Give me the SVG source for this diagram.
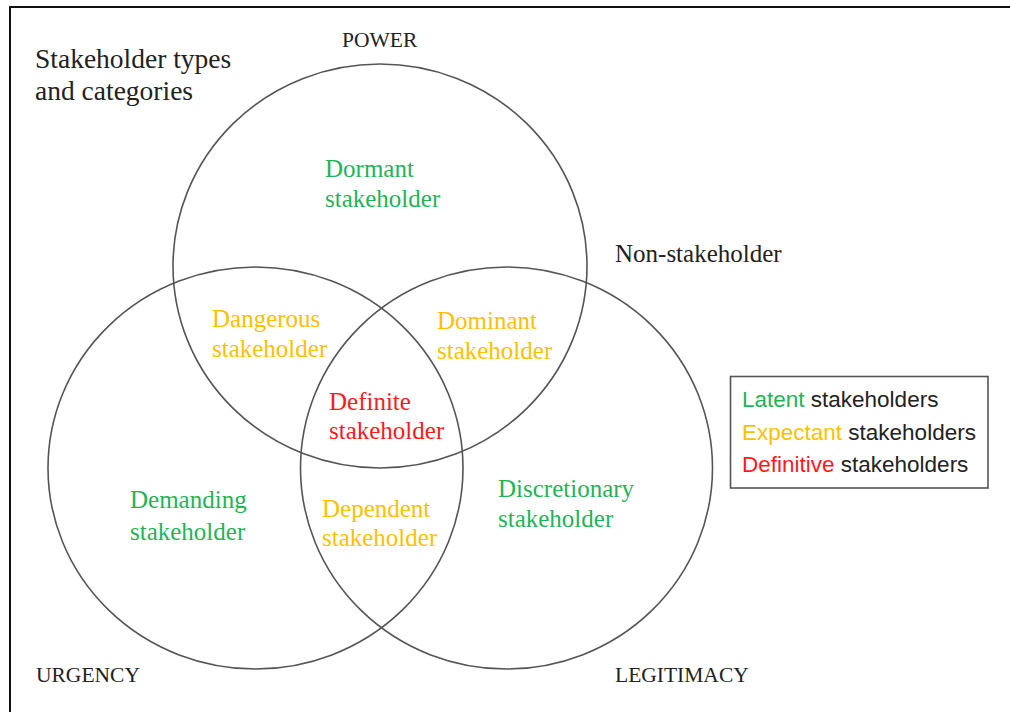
<svg xmlns="http://www.w3.org/2000/svg" width="1010" height="712" viewBox="0 0 1010 712">
<style>
.ring{fill:none;stroke:#555;stroke-width:1.6}
.serif{font-family:"Liberation Serif","Times New Roman",serif;fill:#222}
.lbl{font-family:"Liberation Serif","Times New Roman",serif;font-size:25px}
.g{fill:#1fb456}
.y{fill:#ffc000}
.r{fill:#ff1a1a}
.leg{font-family:"Liberation Sans",Arial,sans-serif;font-size:22.5px;fill:#222}
</style>
<rect width="1010" height="712" fill="#fff"/>
<g id="frame">
<line x1="9" y1="7" x2="1010" y2="7" stroke="#111" stroke-width="2"/>
<line x1="10" y1="6" x2="10" y2="712" stroke="#111" stroke-width="2"/>
</g>
<g id="title">
<text class="serif" x="35" y="68" font-size="27.5">Stakeholder types</text>
<text class="serif" x="35" y="100" font-size="27.5">and categories</text>
</g>
<g id="power">
<ellipse class="ring" cx="380" cy="266" rx="207" ry="202"/>
<text class="serif" x="342" y="47" font-size="21.5">POWER</text>
</g>
<g id="urgency">
<ellipse class="ring" cx="255.5" cy="468" rx="207.5" ry="201"/>
<text class="serif" x="36" y="682" font-size="21.5">URGENCY</text>
</g>
<g id="legitimacy">
<ellipse class="ring" cx="506.5" cy="468" rx="206" ry="201"/>
<text class="serif" x="615" y="682" font-size="21.5">LEGITIMACY</text>
</g>
<g id="non-stakeholder">
<text class="serif" x="615" y="262" font-size="25">Non-stakeholder</text>
</g>
<g id="dormant"><text class="lbl g" x="325" y="177">Dormant</text><text class="lbl g" x="325" y="207">stakeholder</text></g>
<g id="dangerous"><text class="lbl y" x="212" y="327">Dangerous</text><text class="lbl y" x="212" y="357">stakeholder</text></g>
<g id="dominant"><text class="lbl y" x="437" y="329">Dominant</text><text class="lbl y" x="437" y="359">stakeholder</text></g>
<g id="definite"><text class="lbl r" x="329" y="410">Definite</text><text class="lbl r" x="329" y="439">stakeholder</text></g>
<g id="demanding"><text class="lbl g" x="130" y="508">Demanding</text><text class="lbl g" x="130" y="540">stakeholder</text></g>
<g id="dependent"><text class="lbl y" x="322" y="517">Dependent</text><text class="lbl y" x="322" y="546">stakeholder</text></g>
<g id="discretionary"><text class="lbl g" x="498" y="497">Discretionary</text><text class="lbl g" x="498" y="527">stakeholder</text></g>
<g id="legend">
<rect x="730.5" y="376.5" width="257.5" height="111.5" fill="#fff" stroke="#555" stroke-width="1.6"/>
<text class="leg" x="742" y="407"><tspan class="g">Latent</tspan> stakeholders</text>
<text class="leg" x="742" y="440"><tspan class="y">Expectant</tspan> stakeholders</text>
<text class="leg" x="742" y="472"><tspan class="r">Definitive</tspan> stakeholders</text>
</g>
</svg>
